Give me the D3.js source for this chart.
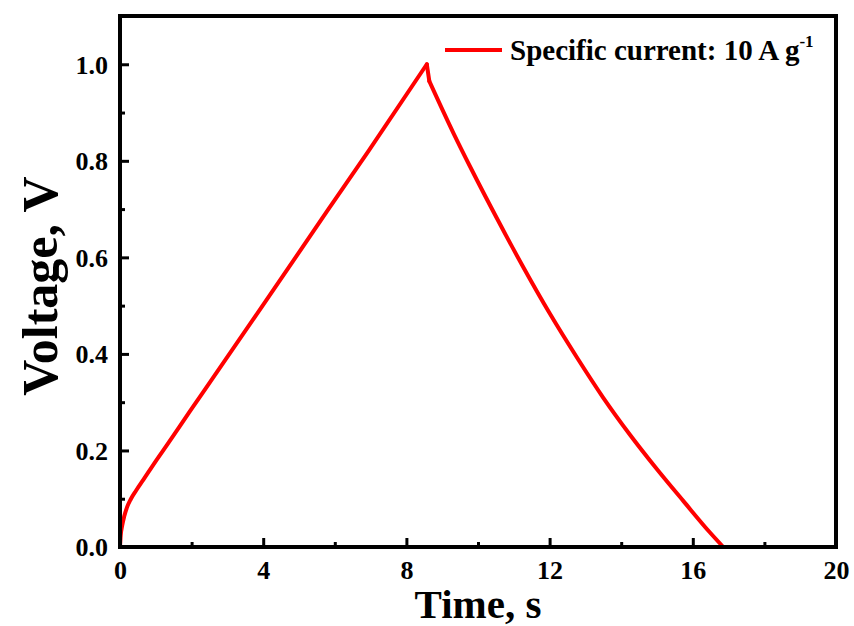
<!DOCTYPE html>
<html>
<head>
<meta charset="utf-8">
<script src="https://cdn.jsdelivr.net/npm/d3@7"></script>
<style>
  body { margin: 0; background: #fff; }
  svg text { font-family: "Liberation Serif", "Times New Roman", serif; font-weight: bold; fill: #000; }
</style>
</head>
<body>
<div id="chart"></div>
<script>
// charge branch, IR drop, then discharge branch
const chargeTime = [0, 0.02, 0.06, 0.12, 0.2, 0.3, 0.45, 0.65, 1.0, 1.3, 1.96, 2.51, 4.28, 5.77, 6.94, 8.57];
const chargeVolt = [0, 0.024, 0.044, 0.064, 0.083, 0.099, 0.117, 0.139, 0.178, 0.21, 0.282, 0.341, 0.532, 0.694, 0.82, 1.0];
const dropTime = [8.57, 8.64];
const dropVolt = [1.0, 0.965];
const dischargeTime = [8.64, 9.31, 9.82, 10.52, 11.27, 12.01, 12.76, 13.5, 14.25, 15.0, 15.75, 16.48, 16.85];
const dischargeVolt = [0.965, 0.858, 0.782, 0.682, 0.579, 0.483, 0.393, 0.309, 0.232, 0.161, 0.094, 0.03, 0];

const xTicks = [0, 4, 8, 12, 16, 20];
const xMinor = [2, 6, 10, 14, 18];
const yTicks = [0.0, 0.2, 0.4, 0.6, 0.8, 1.0];
const yMinor = [0.1, 0.3, 0.5, 0.7, 0.9];

const legendLabel = 'Specific current: 10 A g';

const width = 854, height = 626;
const margin = { top: 16, right: 18, bottom: 79, left: 120 };
const w = width - margin.left - margin.right;
const h = height - margin.top - margin.bottom;

const svg = d3.select('#chart').append('svg')
  .attr('width', width)
  .attr('height', height);

const g = svg.append('g').attr('transform', `translate(${margin.left},${margin.top})`);

const x = d3.scaleLinear().domain([0, 20]).range([0, w]);
const y = d3.scaleLinear().domain([0, 1.1]).range([h, 0]);

const zip = (ts, vs) => ts.map((t, i) => [t, vs[i]]);

const smooth = d3.line()
  .x(d => x(d[0]))
  .y(d => y(d[1]))
  .curve(d3.curveMonotoneX);
const straight = d3.line()
  .x(d => x(d[0]))
  .y(d => y(d[1]));

const segments = [
  smooth(zip(chargeTime, chargeVolt)),
  straight(zip(dropTime, dropVolt)),
  smooth(zip(dischargeTime, dischargeVolt))
];

g.selectAll('path.curve')
  .data(segments)
  .enter().append('path')
  .attr('class', 'curve')
  .attr('fill', 'none')
  .attr('stroke', '#ff0000')
  .attr('stroke-width', 4)
  .attr('stroke-linejoin', 'round')
  .attr('stroke-linecap', 'round')
  .attr('d', d => d);

// axes, ticks pointing inward
const xAxis = g.append('g').attr('transform', `translate(0,${h})`)
  .call(d3.axisBottom(x).tickValues(xTicks).tickSize(-9).tickPadding(14).tickFormat(d3.format('d')));
const xAxisMinor = g.append('g').attr('transform', `translate(0,${h})`)
  .call(d3.axisBottom(x).tickValues(xMinor).tickSize(-5).tickFormat(''));
const yAxis = g.append('g')
  .call(d3.axisLeft(y).tickValues(yTicks).tickSize(-9).tickPadding(12).tickFormat(d3.format('.1f')));
const yAxisMinor = g.append('g')
  .call(d3.axisLeft(y).tickValues(yMinor).tickSize(-5).tickFormat(''));

[xAxis, xAxisMinor, yAxis, yAxisMinor].forEach(a => {
  a.select('.domain').remove();
  a.selectAll('line').attr('stroke', '#000').attr('stroke-width', 3);
  a.selectAll('text').style('font-size', '26px');
});
xAxis.selectAll('text').attr('dy', '0.71em');
yAxis.selectAll('text').attr('dy', '0.34em');

// frame
g.append('rect')
  .attr('width', w)
  .attr('height', h)
  .attr('fill', 'none')
  .attr('stroke', '#000')
  .attr('stroke-width', 4);

// axis titles
svg.append('text')
  .attr('x', margin.left + w / 2)
  .attr('y', 618)
  .attr('text-anchor', 'middle')
  .style('font-size', '41px')
  .text('Time, s');

svg.append('text')
  .attr('transform', `translate(57,286) rotate(-90)`)
  .attr('text-anchor', 'middle')
  .style('font-size', '50px')
  .text('Voltage, V');

// legend
const legend = g.append('g').attr('transform', `translate(${445 - margin.left},${50 - margin.top})`);
legend.append('line')
  .attr('x1', 0).attr('x2', 57)
  .attr('stroke', '#ff0000')
  .attr('stroke-width', 4);
const lt = legend.append('text')
  .attr('x', 65)
  .attr('y', 10)
  .style('font-size', '29px')
  .text(legendLabel);
lt.append('tspan')
  .attr('dy', -13)
  .style('font-size', '17px')
  .text('-1');
</script>
</body>
</html>
